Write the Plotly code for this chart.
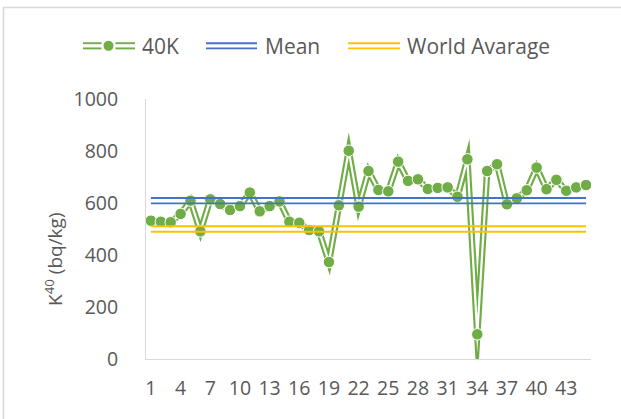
import plotly.graph_objects as go

# data
SAMPLES = list(range(1, 46))
K40 = [532, 528, 526, 558, 609, 491, 614, 596, 573, 588,
       640, 568, 588, 606, 528, 524, 496, 491, 373, 591,
       801, 586, 723, 650, 645, 759, 685, 691, 654, 658,
       660, 624, 768, 95, 723, 749, 595, 618, 649, 736,
       653, 689, 647, 660, 669]
MEAN = 609
WORLD_AVERAGE = 500
X_TICKS = [1, 4, 7, 10, 13, 16, 19, 22, 25, 28, 31, 34, 37, 40, 43]
Y_TICKS = [0, 200, 400, 600, 800, 1000]

GREEN = "#70AD47"
BLUE = "#4472C4"
YELLOW = "#FFC000"
TEXT = "#595959"
AXIS = "#D9D9D9"
FONT = "Open Sans"

# page geometry (px)
W, H = 621, 419
L, R, T, B = 146, 30, 99, 60
PLOT_W, PLOT_H = W - L - R, H - T - B
Y_MAX = 1000
GAP = 2.7 * Y_MAX / PLOT_H   # half distance between the two strokes of a double line


def paper(x, y):
    return (x - L) / PLOT_W, (H - B - y) / PLOT_H


fig = go.Figure()

# 40K: wide green stroke with a white core -> "double" line look
fig.add_trace(go.Scatter(x=SAMPLES, y=K40, mode="lines",
                         line=dict(color=GREEN, width=6.5), hoverinfo="skip"))
fig.add_trace(go.Scatter(x=SAMPLES, y=K40, mode="lines",
                         line=dict(color="white", width=2.2), hoverinfo="skip"))
fig.add_trace(go.Scatter(x=SAMPLES, y=K40, mode="markers", name="40K",
                         marker=dict(color=GREEN, size=11.5,
                                     line=dict(color="white", width=1))))

# mean and world average as two thin strokes each
for value, color in [(MEAN, BLUE), (WORLD_AVERAGE, YELLOW)]:
    for off in (-GAP, GAP):
        fig.add_trace(go.Scatter(x=[SAMPLES[0], SAMPLES[-1]], y=[value + off] * 2,
                                 mode="lines", line=dict(color=color, width=1.9),
                                 hoverinfo="skip"))

# hand-made legend so the double lines show like in Excel
shapes = []
annotations = []
legend_y = 45.8
items = [("40K", GREEN, 83, 135, 140), ("Mean", BLUE, 206, 257, 263),
         ("World Avarage", YELLOW, 348, 400, 405)]
for label, color, x0, x1, tx in items:
    segs = [(x0, x1)]
    if label == "40K":
        segs = [(x0, 101.5), (115.5, x1)]
    for a, b in segs:
        for dy in (-2.6, 2.6):
            px0, py = paper(a, legend_y + dy)
            px1, _ = paper(b, legend_y + dy)
            shapes.append(dict(type="line", xref="paper", yref="paper",
                               x0=px0, x1=px1, y0=py, y1=py,
                               line=dict(color=color, width=1.9)))
    if label == "40K":
        cx0, cy0 = paper(108.5 - 5.5, legend_y - 5.5)
        cx1, cy1 = paper(108.5 + 5.5, legend_y + 5.5)
        shapes.append(dict(type="circle", xref="paper", yref="paper",
                           x0=cx0, x1=cx1, y0=cy1, y1=cy0,
                           fillcolor=color, line=dict(color="white", width=1)))
    ax, ay = paper(tx, legend_y)
    annotations.append(dict(text=label, xref="paper", yref="paper", x=ax, y=ay,
                            xanchor="left", yanchor="middle", showarrow=False,
                            font=dict(family=FONT, size=21, color=TEXT)))

# y axis title as a rotated annotation
ytx, _ = paper(54, 0)
annotations.append(dict(text="K<sup>40</sup> (bq/kg)", xref="paper", yref="paper",
                        x=ytx, y=0.5, xanchor="center", yanchor="middle",
                        yshift=-30, textangle=-90, showarrow=False,
                        font=dict(family=FONT, size=19, color=TEXT)))

# chart border (left and top edges visible in the crop)
bx, by0 = paper(3.5, H + 5)
_, by1 = paper(3.5, 7.5)
shapes.append(dict(type="line", xref="paper", yref="paper", x0=bx, x1=bx, y0=by0, y1=by1,
                   line=dict(color=AXIS, width=1.6)))
tx0, ty = paper(3, 7.5)
tx1, _ = paper(W + 5, 7.5)
shapes.append(dict(type="line", xref="paper", yref="paper", x0=tx0, x1=tx1, y0=ty, y1=ty,
                   line=dict(color=AXIS, width=1.6)))

fig.update_layout(
    width=W, height=H,
    margin=dict(l=L, r=R, t=T, b=B),
    paper_bgcolor="white", plot_bgcolor="white",
    showlegend=False,
    font=dict(family=FONT, color=TEXT),
    shapes=shapes, annotations=annotations,
)
fig.update_xaxes(range=[0.5, len(SAMPLES) + 0.5], tickvals=X_TICKS,
                 showgrid=False, zeroline=False, showline=True, linecolor=AXIS,
                 linewidth=1, ticks="", ticklabelstandoff=12,
                 tickfont=dict(family=FONT, size=19.5, color=TEXT))
fig.update_yaxes(range=[0, Y_MAX], tickvals=Y_TICKS,
                 showgrid=False, zeroline=False, showline=True, linecolor=AXIS,
                 linewidth=1, ticks="", ticklabelstandoff=23,
                 tickfont=dict(family=FONT, size=19.5, color=TEXT))

# drop the default body margin, and raise the SVG miter limit so the
# sharp joins get Excel-like spikes
fig.write_html("out.html", config={"displayModeBar": False},
               post_script="document.body.style.margin='0';"
                           "document.querySelectorAll('path.js-line')"
                           ".forEach(function(p){p.style.strokeMiterlimit='30';});")
